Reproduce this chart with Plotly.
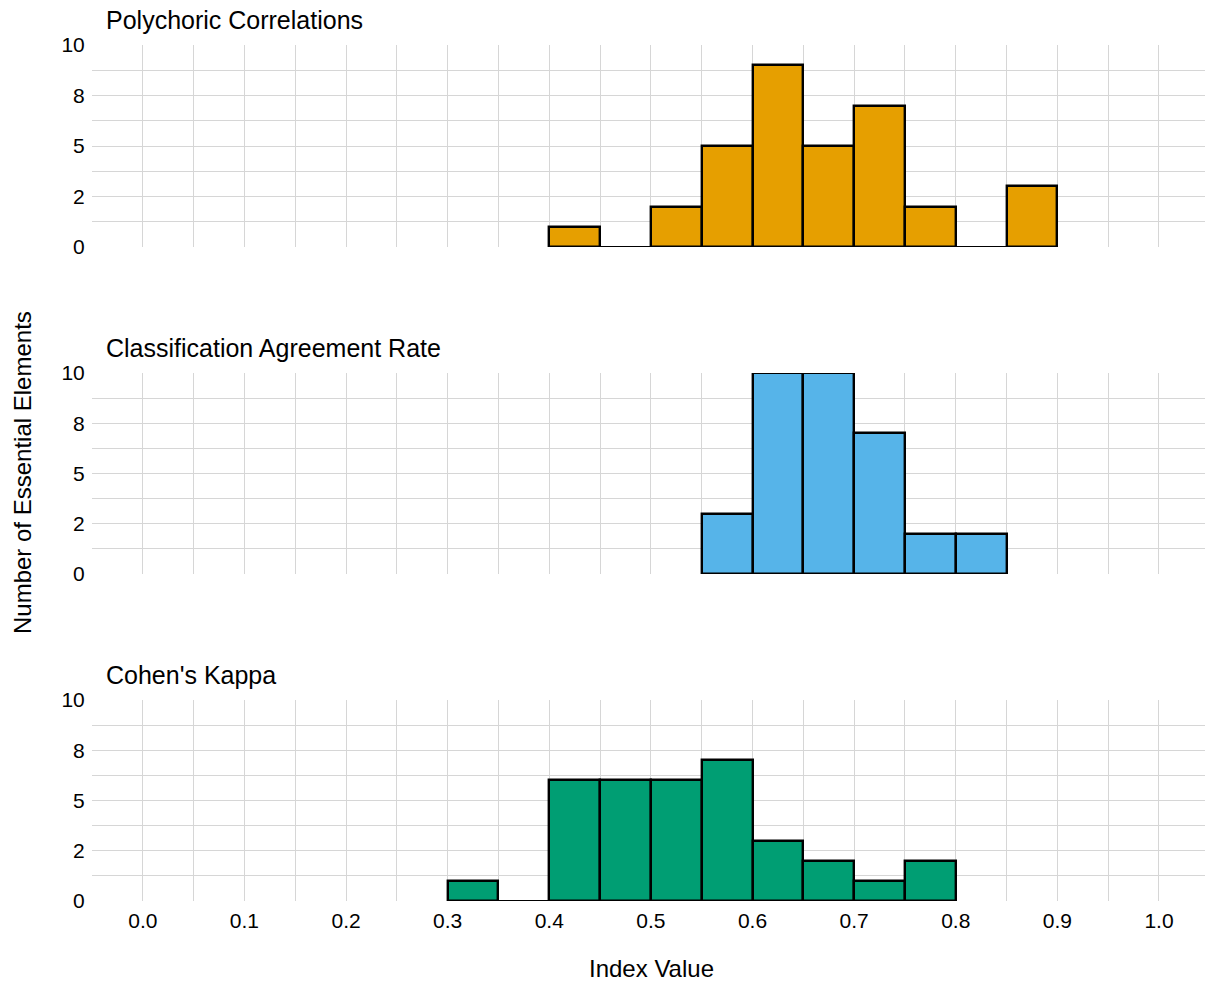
import plotly.graph_objects as go
from plotly.subplots import make_subplots

# Histogram bins (left edges) shared by all three indices
bin_starts = [0.30, 0.35, 0.40, 0.45, 0.50, 0.55, 0.60, 0.65, 0.70, 0.75, 0.80, 0.85]
bin_width = 0.05

polychoric_counts = [0, 0, 1, 0, 2, 5, 9, 5, 7, 2, 0, 3]
agreement_counts = [0, 0, 0, 0, 0, 3, 10, 10, 7, 2, 2, 0]
kappa_counts = [1, 0, 6, 6, 6, 7, 3, 2, 1, 2, 0, 0]

panel_titles = ["Polychoric Correlations", "Classification Agreement Rate", "Cohen's Kappa"]
panel_colors = ["#E69F00", "#56B4E9", "#009E73"]
panel_counts = [polychoric_counts, agreement_counts, kappa_counts]

x_ticks = [0.0, 0.1, 0.2, 0.3, 0.4, 0.5, 0.6, 0.7, 0.8, 0.9, 1.0]
x_tick_labels = ["0.0", "0.1", "0.2", "0.3", "0.4", "0.5", "0.6", "0.7", "0.8", "0.9", "1.0"]
x_minor = [-0.05, 0.05, 0.15, 0.25, 0.35, 0.45, 0.55, 0.65, 0.75, 0.85, 0.95]
y_ticks = [0, 2.5, 5, 7.5, 10]
y_tick_labels = ["0", "2", "5", "8", "10"]
y_minor = [1.25, 3.75, 6.25, 8.75]

FONT = "Liberation Sans Narrow, Arial Narrow, Liberation Sans, Arial, sans-serif"
GRID = "#d6d6d6"

W, H = 1205, 982
left_px, right_px = 92, 1205
panel_px = [(45, 247), (373, 574), (700, 901)]  # top, bottom in pixels

fig = make_subplots(rows=3, cols=1, shared_xaxes=False)

for i, (counts, color) in enumerate(zip(panel_counts, panel_colors)):
    row = i + 1
    xs = [s for s, c in zip(bin_starts, counts) if c > 0]
    ys = [c for c in counts if c > 0]
    fig.add_trace(
        go.Bar(
            x=xs, y=ys, width=bin_width, offset=0,
            marker=dict(color=color, line=dict(color="black", width=2.4)),
            cliponaxis=False, showlegend=False, hoverinfo="x+y",
        ),
        row=row, col=1,
    )
    # empty bins inside the data range are drawn as a flat outline at zero
    first = next(k for k, c in enumerate(counts) if c > 0)
    last = max(k for k, c in enumerate(counts) if c > 0)
    for k in range(first, last + 1):
        if counts[k] == 0:
            fig.add_trace(
                go.Scatter(
                    x=[bin_starts[k], bin_starts[k] + bin_width], y=[counts[k], counts[k]],
                    mode="lines", line=dict(color="black", width=1.8),
                    showlegend=False, hoverinfo="skip", cliponaxis=False,
                ),
                row=row, col=1,
            )

x_end = (right_px - 143.5) / 1015.5
for i in range(3):
    top, bot = panel_px[i]
    xa = "xaxis" if i == 0 else f"xaxis{i + 1}"
    ya = "yaxis" if i == 0 else f"yaxis{i + 1}"
    fig.layout[xa].update(
        domain=[left_px / W, right_px / W],
        range=[-0.05, x_end],
        tickvals=x_ticks, ticktext=x_tick_labels,
        showticklabels=(i == 2),
        showgrid=True, gridcolor=GRID, gridwidth=1.3, zeroline=False,
        minor=dict(tickvals=x_minor, showgrid=True, gridcolor=GRID, gridwidth=1.3),
        ticks="outside", ticklen=1, tickcolor="rgba(0,0,0,0)", automargin=False,
        tickfont=dict(family=FONT, size=21, color="black"),
        showline=False,
    )
    fig.layout[ya].update(
        domain=[1 - bot / H, 1 - top / H],
        range=[0, 10],
        tickvals=y_ticks, ticktext=y_tick_labels,
        showgrid=True, gridcolor=GRID, gridwidth=1.3, zeroline=False,
        minor=dict(tickvals=y_minor, showgrid=True, gridcolor=GRID, gridwidth=1.3),
        ticks="outside", ticklen=2, tickcolor="rgba(0,0,0,0)", automargin=False,
        tickfont=dict(family=FONT, size=21, color="black"),
        showline=False,
    )
    fig.add_annotation(
        text=panel_titles[i], xref="paper", yref="paper",
        x=104 / W, y=1 - (top - 25) / H, xanchor="left", yanchor="middle",
        showarrow=False, font=dict(family=FONT, size=25, color="black"),
    )

fig.add_annotation(
    text="Index Value", xref="paper", yref="paper",
    x=(143.5 + 0.5 * 1015.5) / W, y=1 - 968 / H, xanchor="center", yanchor="middle",
    showarrow=False, font=dict(family=FONT, size=24, color="black"),
)
fig.add_annotation(
    text="Number of Essential Elements", xref="paper", yref="paper",
    x=22 / W, y=1 - 473 / H, xanchor="center", yanchor="middle", textangle=-90,
    showarrow=False, font=dict(family=FONT, size=24, color="black"),
)

fig.update_layout(
    width=W, height=H,
    margin=dict(l=0, r=0, t=0, b=0, autoexpand=False),
    paper_bgcolor="white", plot_bgcolor="white",
    bargap=0,
    font=dict(family=FONT, color="black"),
)

fig.write_html("out.html")
